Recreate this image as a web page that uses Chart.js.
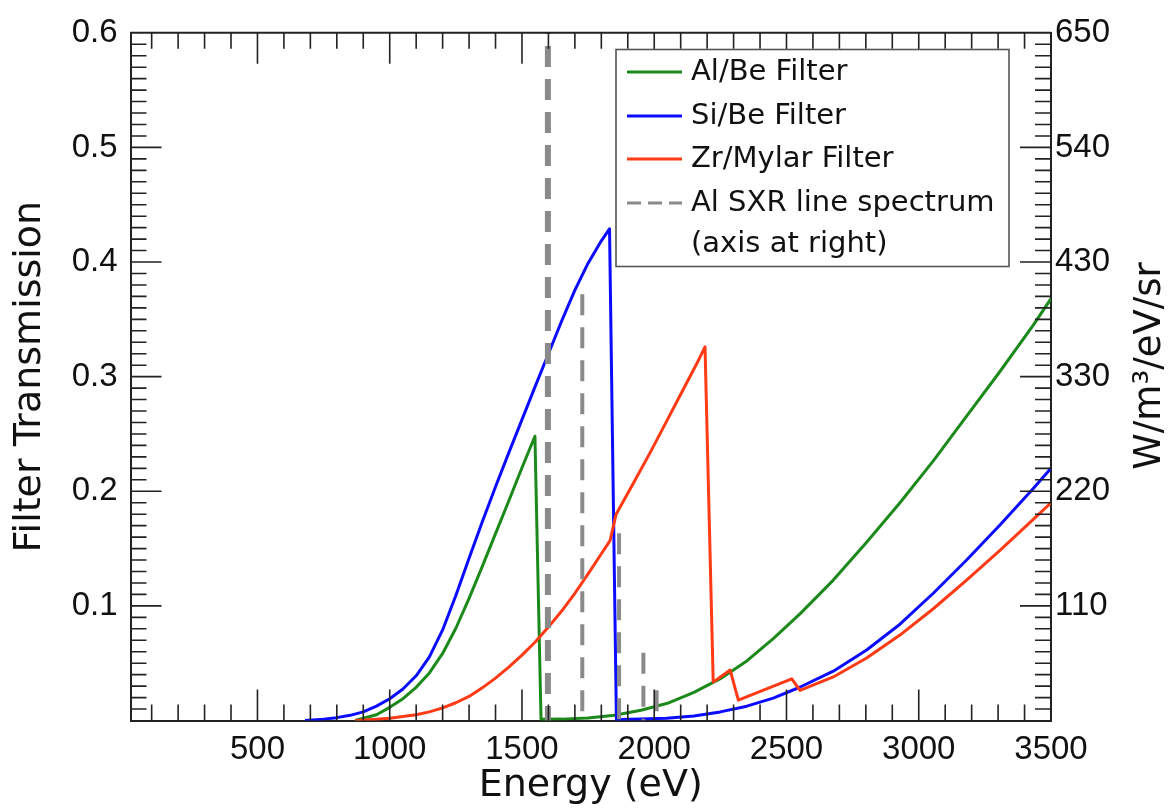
<!DOCTYPE html>
<html><head><meta charset="utf-8">
<script src="https://cdn.jsdelivr.net/npm/chart.js@4.4.1/dist/chart.umd.min.js"></script>
<style>html,body{margin:0;padding:0;background:#fff;overflow:hidden}#wrap{width:1175px;height:811px}</style>
</head><body><div id="wrap"><canvas id="c" width="1175" height="811"></canvas></div>
<script>
// ---------------- data ----------------
const seriesLabels = ['Al/Be Filter', 'Si/Be Filter', 'Zr/Mylar Filter', 'Al SXR line spectrum'];
const legendExtraLine = '(axis at right)';

const alBeEnergy = [869, 900, 950, 1000, 1050, 1100, 1150, 1200, 1250, 1300, 1350, 1400, 1450, 1500, 1549,
                    1572, 1650, 1750, 1850, 1950, 2050, 2150, 2250, 2350, 2450, 2551, 2677, 2803, 2929, 3055, 3181, 3307, 3433, 3500];
const alBeTrans  = [0.0, 0.002, 0.005, 0.0115, 0.019, 0.029, 0.0415, 0.0585, 0.0805, 0.1065, 0.1345, 0.163, 0.1915, 0.2205, 0.248,
                    0.001, 0.0012, 0.0022, 0.0045, 0.009, 0.015, 0.0245, 0.0365, 0.052, 0.0715, 0.093, 0.1225, 0.1555, 0.190, 0.2265, 0.2655, 0.3045, 0.345, 0.368];

const siBeEnergy = [680, 750, 800, 850, 900, 950, 1000, 1050, 1100, 1150, 1200, 1250, 1300, 1350, 1400, 1450, 1500, 1550, 1600, 1650, 1700, 1750, 1800, 1831,
                    1857, 1950, 2047, 2150, 2250, 2350, 2450, 2550, 2677, 2803, 2929, 3055, 3181, 3307, 3433, 3500];
const siBeTrans  = [0.0, 0.0012, 0.0025, 0.0045, 0.0075, 0.0125, 0.019, 0.0275, 0.039, 0.0555, 0.079, 0.109, 0.1415, 0.1735, 0.204, 0.2335, 0.2625, 0.2915, 0.320, 0.3485, 0.3755, 0.399, 0.4185, 0.429,
                    0.0008, 0.0012, 0.002, 0.004, 0.0075, 0.0125, 0.0195, 0.029, 0.043, 0.0615, 0.084, 0.111, 0.140, 0.1705, 0.2025, 0.220];

const zrMylarEnergy = [869, 950, 1000, 1050, 1100, 1150, 1200, 1250, 1300, 1350, 1400, 1450, 1500, 1550, 1600, 1650, 1700, 1750, 1800, 1833,
                       1856, 1920, 1984, 2050, 2110, 2160, 2192, 2223, 2287, 2318, 2520, 2551, 2677, 2803, 2929, 3055, 3181, 3307, 3433, 3500];
const zrMylarTrans  = [0.0, 0.001, 0.002, 0.0035, 0.005, 0.0075, 0.011, 0.0155, 0.021, 0.0285, 0.037, 0.0465, 0.057, 0.0685, 0.0815, 0.0955, 0.111, 0.128, 0.1455, 0.157,
                       0.180, 0.2065, 0.2335, 0.2625, 0.289, 0.311, 0.326, 0.0335, 0.044, 0.0177, 0.0364, 0.0263, 0.038, 0.0545, 0.0745, 0.0975, 0.1225, 0.1485, 0.1755, 0.190];

// Al SXR line spectrum (right axis, W/m^3/eV/sr)
const lineEnergy = [1598, 1728, 1867, 1959, 2009];
const lineValue  = [700, 403, 177, 64, 28.5];

// tick labels
const xTickValues = [500, 1000, 1500, 2000, 2500, 3000, 3500];
const xTickLabels = ['500', '1000', '1500', '2000', '2500', '3000', '3500'];
const leftTickValues = [0.1, 0.2, 0.3, 0.4, 0.5, 0.6];
const leftTickLabels = ['0.1', '0.2', '0.3', '0.4', '0.5', '0.6'];
const rightTickValues = [108.333, 216.667, 325, 433.333, 541.667, 650];
const rightTickLabels = ['110', '220', '330', '430', '540', '650'];

const xTitle = 'Energy (eV)';
const yTitle = 'Filter Transmission';
const y2Title = 'W/m\u00B3/eV/sr';

// ---------------- build ----------------
const pts = (xs, ys) => xs.map((x, i) => ({x: x, y: ys[i]}));
const spikes = (idx) => {
  const out = [];
  idx.forEach(i => { out.push({x: lineEnergy[i], y: lineValue[i]}, {x: lineEnergy[i], y: 0}, {x: lineEnergy[i], y: null}); });
  return out;
};

const GREEN = '#1b8a1b', BLUE = '#0b0bff', RED = '#ff3a14', GRAY = '#8a8a8a';
const TICK_FONT = {family: 'Liberation Sans', size: 33};
const TITLE_FONT = {family: 'DejaVu Sans', size: 38};

const frameTicks = {
  id: 'frameTicks',
  afterDatasetsDraw(chart) {
    const {ctx, chartArea: a, scales: {x, y}} = chart;
    ctx.save();
    ctx.strokeStyle = '#222';
    ctx.lineWidth = 1.6;
    ctx.beginPath();
    for (let v = 100; v < 3500; v += 100) {
      const px = x.getPixelForValue(v);
      const len = (v % 500 === 0) ? 31 : 16;
      ctx.moveTo(px, a.bottom); ctx.lineTo(px, a.bottom - len);
      ctx.moveTo(px, a.top); ctx.lineTo(px, a.top + len);
    }
    for (let k = 1; k < 60; k++) {
      const py = y.getPixelForValue(k / 100);
      const len = (k % 10 === 0) ? 31 : 16;
      ctx.moveTo(a.left, py); ctx.lineTo(a.left + len, py);
      ctx.moveTo(a.right, py); ctx.lineTo(a.right - len, py);
    }
    ctx.stroke();
    ctx.lineWidth = 2;
    ctx.beginPath();
    ctx.moveTo(a.left, a.top); ctx.lineTo(a.right, a.top);
    ctx.stroke();
    ctx.restore();
  },
  afterDraw(chart) {
    const ctx = chart.ctx;
    ctx.save();
    // right axis title (reads bottom to top)
    ctx.font = '37px "DejaVu Sans"';
    ctx.fillStyle = '#111';
    ctx.textAlign = 'center';
    ctx.textBaseline = 'middle';
    ctx.translate(1150, 366);
    ctx.rotate(-Math.PI / 2);
    ctx.fillText(y2Title, 0, 0);
    ctx.restore();

    // legend box
    ctx.save();
    ctx.strokeStyle = '#555';
    ctx.lineWidth = 1.6;
    ctx.fillStyle = '#fff';
    ctx.fillRect(616, 49.5, 393, 217);
    ctx.strokeRect(616, 49.5, 393, 217);
    ctx.font = '29px "DejaVu Sans"';
    ctx.textAlign = 'left';
    ctx.textBaseline = 'middle';
    const rows = [72, 116, 159, 203, 244];
    [0, 1, 2, 3].forEach((d, r) => {
      const ds = chart.data.datasets[d];
      ctx.strokeStyle = ds.borderColor;
      ctx.lineWidth = 3;
      ctx.setLineDash(d === 3 ? [14, 7] : []);
      ctx.beginPath();
      ctx.moveTo(627, rows[r]); ctx.lineTo(682, rows[r]);
      ctx.stroke();
      ctx.setLineDash([]);
      ctx.fillStyle = '#111';
      ctx.fillText(seriesLabels[r], 691, rows[r]);
    });
    ctx.fillText(legendExtraLine, 691, rows[4]);
    ctx.restore();
  }
};

const curve = {borderWidth: 3, yAxisID: 'y'};

new Chart(document.getElementById('c'), {
  type: 'line',
  data: {
    datasets: [
      Object.assign({label: seriesLabels[0], data: pts(alBeEnergy, alBeTrans), borderColor: GREEN, order: 3}, curve),
      Object.assign({label: seriesLabels[1], data: pts(siBeEnergy, siBeTrans), borderColor: BLUE, order: 2}, curve),
      Object.assign({label: seriesLabels[2], data: pts(zrMylarEnergy, zrMylarTrans), borderColor: RED, order: 1}, curve),
      {label: seriesLabels[3], data: spikes([1, 2, 3, 4]), borderColor: GRAY, borderWidth: 4, borderDash: [21, 12], yAxisID: 'y2', spanGaps: false, order: 0},
      {label: seriesLabels[3] + ' (main)', data: spikes([0]), borderColor: GRAY, borderWidth: 6, borderDash: [21, 12], yAxisID: 'y2', spanGaps: false, order: 0}
    ]
  },
  options: {
    responsive: false,
    animation: false,
    devicePixelRatio: 1,
    layout: {padding: {top: 25.5, left: 0, right: 0, bottom: 0}},
    elements: {point: {radius: 0, hoverRadius: 0}, line: {tension: 0, borderCapStyle: 'butt', borderJoinStyle: 'round'}},
    plugins: {legend: {display: false}, tooltip: {enabled: false}},
    scales: {
      x: {
        type: 'linear', position: 'bottom', min: 20, max: 3500,
        afterBuildTicks: s => { s.ticks = xTickValues.map(v => ({value: v})); },
        afterFit: s => { s.height = 90.5; },
        ticks: {autoSkip: false, maxRotation: 0, font: TICK_FONT, color: '#111', padding: 10, callback: (v, i) => xTickLabels[i]},
        grid: {display: false, drawTicks: false},
        border: {display: true, color: '#222', width: 2},
        title: {display: true, text: xTitle, font: TITLE_FONT, color: '#111', padding: {top: 0, bottom: 2}}
      },
      y: {
        type: 'linear', position: 'left', min: 0, max: 0.6,
        afterBuildTicks: s => { s.ticks = leftTickValues.map(v => ({value: v})); },
        afterFit: s => { s.width = 130.5; },
        ticks: {autoSkip: false, font: TICK_FONT, color: '#111', padding: 13, callback: (v, i) => leftTickLabels[i]},
        grid: {display: false, drawTicks: false},
        border: {display: true, color: '#222', width: 2},
        title: {display: true, text: yTitle, font: TITLE_FONT, color: '#111', padding: {top: 7, bottom: 0}}
      },
      y2: {
        type: 'linear', position: 'right', min: 0, max: 650,
        afterBuildTicks: s => { s.ticks = rightTickValues.map(v => ({value: v})); },
        afterFit: s => { s.width = 124; },
        ticks: {autoSkip: false, font: TICK_FONT, color: '#111', padding: 4, callback: (v, i) => rightTickLabels[i]},
        grid: {display: false, drawTicks: false},
        border: {display: true, color: '#222', width: 2}
      }
    }
  },
  plugins: [frameTicks]
});
</script>
</body></html>
